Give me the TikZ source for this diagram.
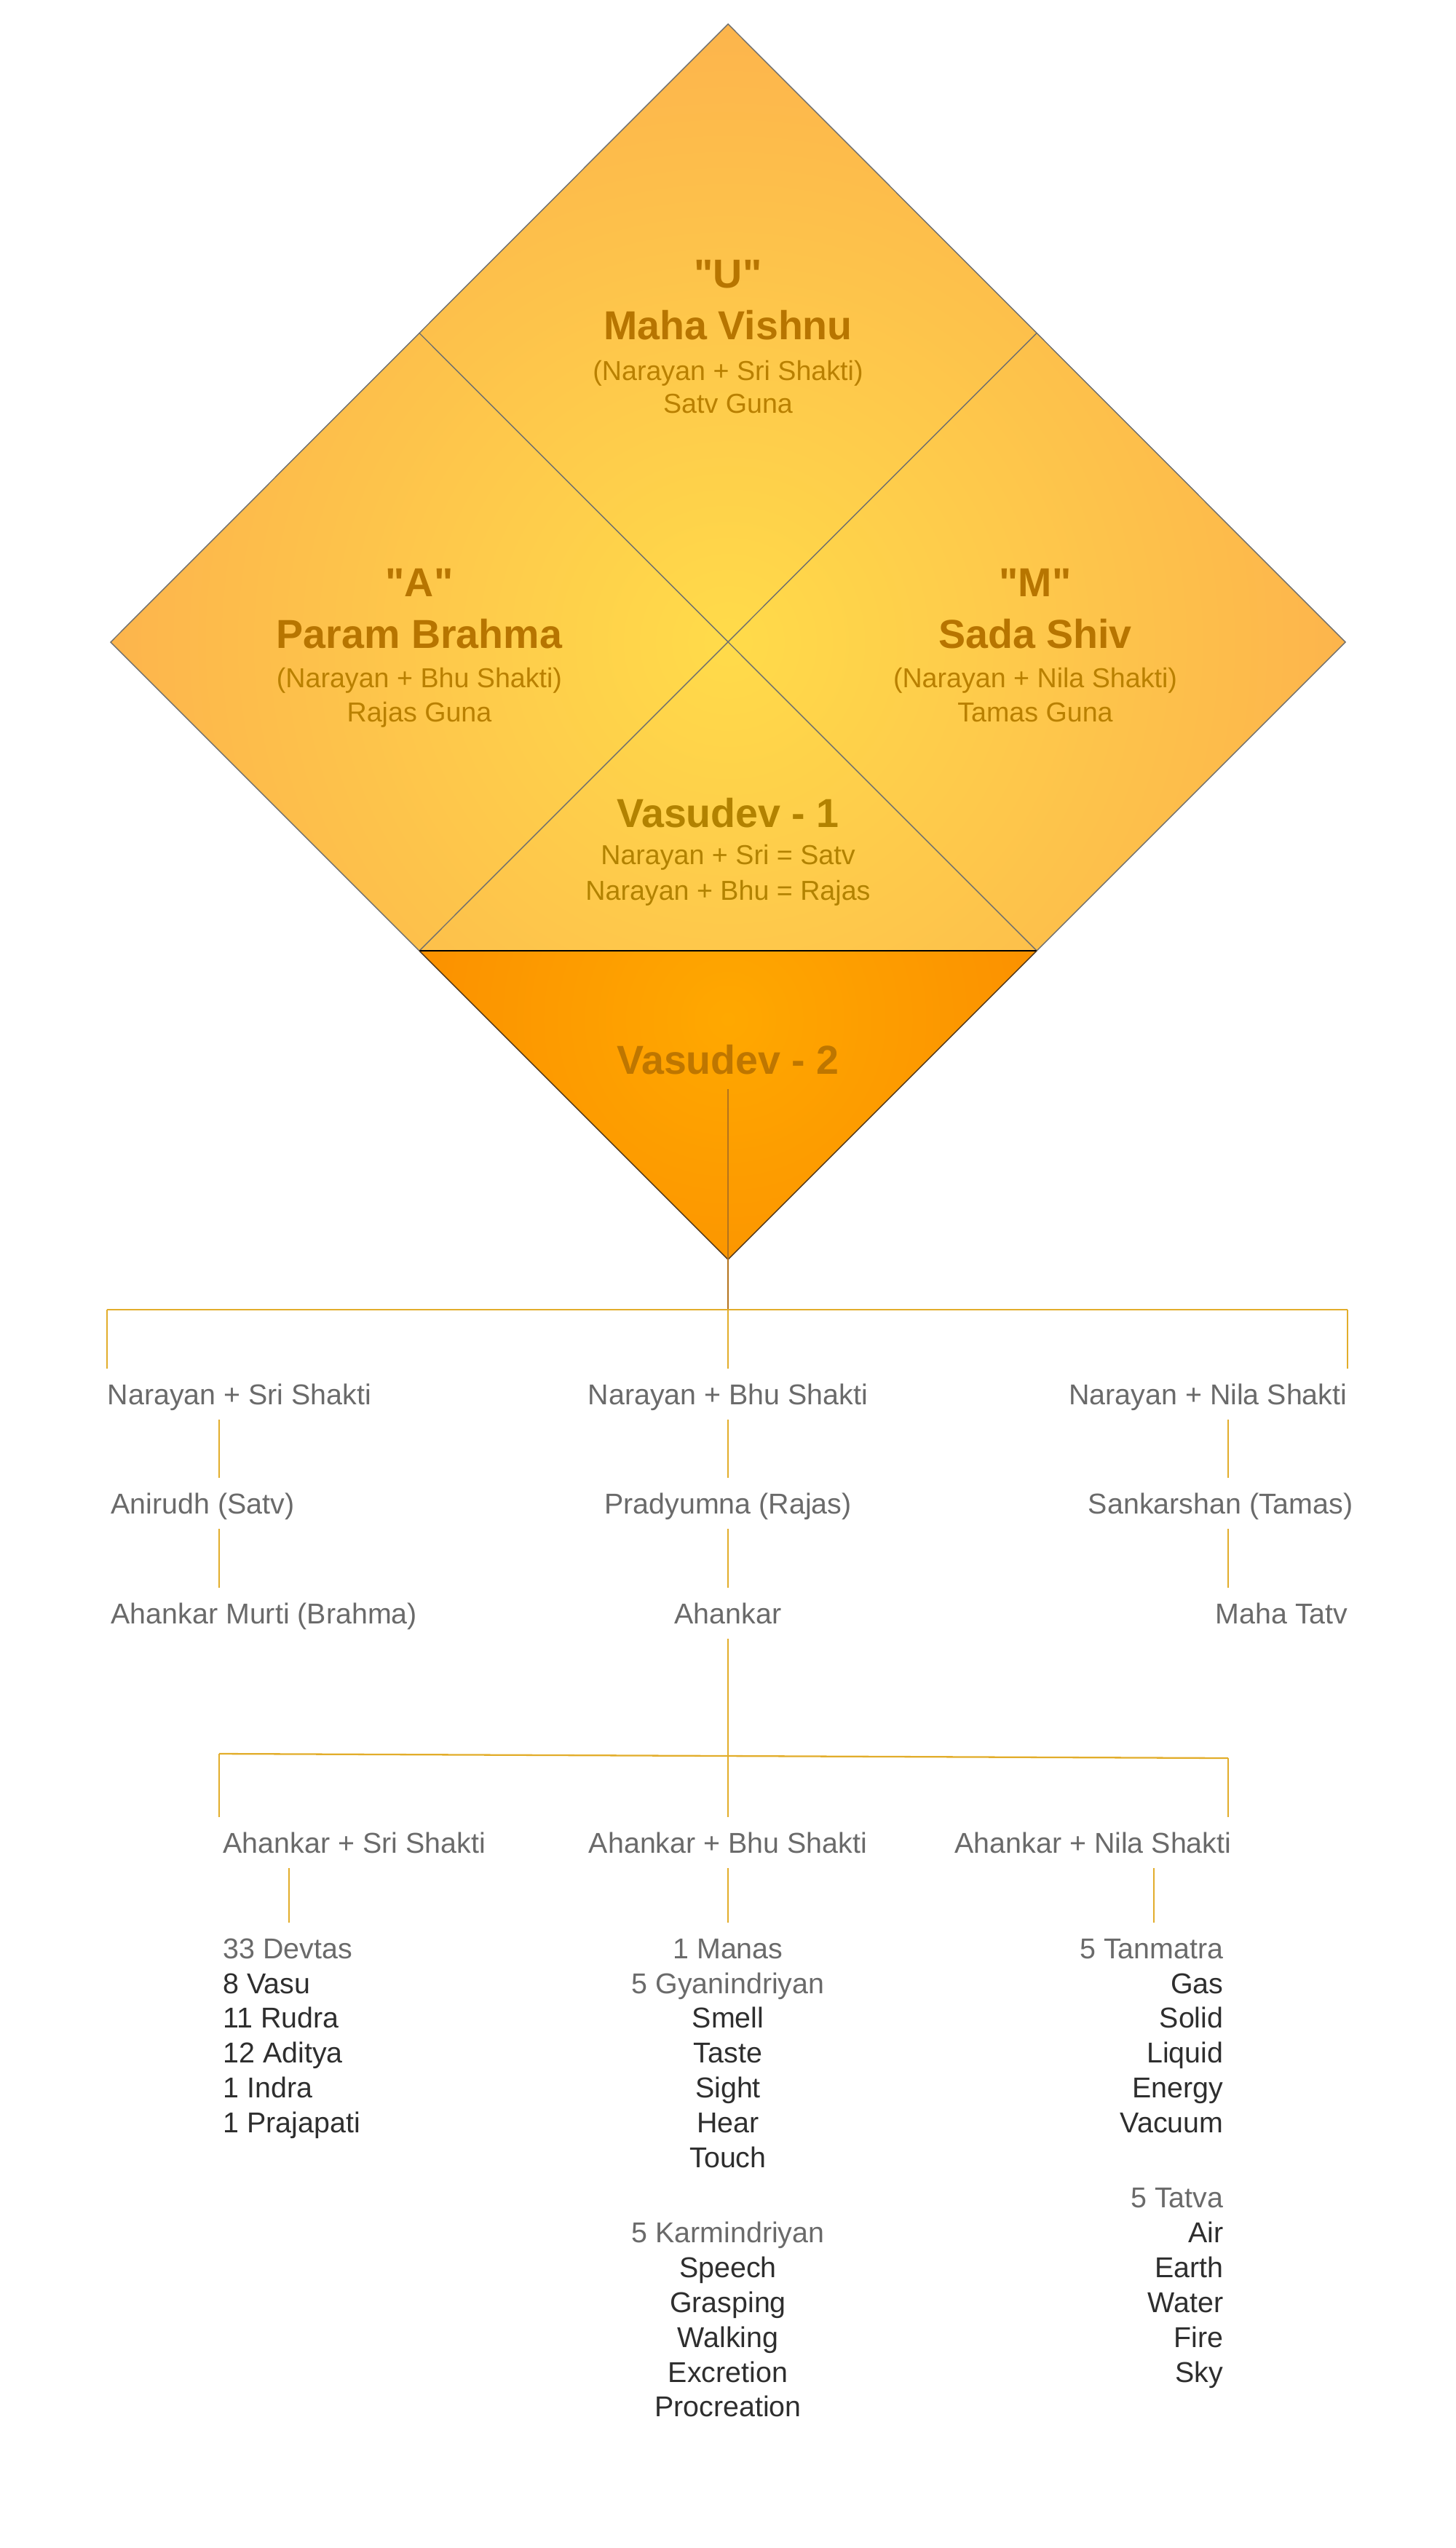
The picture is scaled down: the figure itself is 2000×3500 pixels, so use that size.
\documentclass[tikz,border=0pt]{standalone}
\usepackage{fontspec}
\setmainfont{Liberation Sans}[Ligatures=TeXOff]
\usetikzlibrary{positioning,calc}
\definecolor{diaIn}{HTML}{FFDB4A}
\definecolor{diaOut}{HTML}{FCAF4C}
\definecolor{triIn}{HTML}{FFA800}
\definecolor{triOut}{HTML}{F77800}
\definecolor{deityInk}{HTML}{B77500}
\definecolor{subInk}{HTML}{B98000}
\definecolor{vasuInk}{HTML}{B28200}
\definecolor{edgeGrey}{HTML}{6E6E6E}
\definecolor{linkGold}{HTML}{E2AD2B}
\definecolor{stemBrown}{HTML}{B4731C}
\definecolor{headGrey}{HTML}{6A6A6A}
\definecolor{itemInk}{HTML}{2E2E2E}
\pgfdeclareradialshading{diaglow}{\pgfpoint{0bp}{0bp}}{color(0bp)=(diaIn); color(27bp)=(diaOut); color(50bp)=(diaOut)}
\pgfdeclareradialshading{triglow}{\pgfpoint{0bp}{0bp}}{color(0bp)=(triIn); color(50bp)=(triOut)}
\tikzset{
  deity/.style={font=\fontsize{15.8pt}{19pt}\selectfont\bfseries, text=deityInk,
    inner sep=0pt, text height=11.4pt, text depth=0pt},
  deitysub/.style={font=\fontsize{10.7pt}{13pt}\selectfont, text=subInk,
    inner sep=0pt, text height=7.7pt, text depth=0pt},
  branch/.style={font=\fontsize{11.2pt}{13.6pt}\selectfont, text=headGrey,
    inner xsep=0pt, inner ysep=5.8pt, text height=8pt, text depth=0pt},
  listhead/.style={branch},
  listitem/.style={branch, text=itemInk},
  link/.style={draw=linkGold, line width=0.65pt},
  stem/.style={draw=stemBrown, line width=0.65pt},
  edge/.style={draw=edgeGrey, line width=0.4pt},
}
\begin{document}
\begin{tikzpicture}[x=0.01cm, y=-0.01cm]
  \useasboundingbox (0,0) rectangle (2000,3500);
  % the diamond
  \coordinate (dtop) at (1000,33);
  \coordinate (dleft) at (152,882);
  \coordinate (dright) at (1848,882);
  \coordinate (apex) at (1000,1730);
  \coordinate (ctr) at (1000,882);
  \coordinate (ul) at ($(dtop)!0.5!(dleft)$);
  \coordinate (ur) at ($(dtop)!0.5!(dright)$);
  \coordinate (ll) at ($(dleft)!0.5!(apex)$);
  \coordinate (lr) at ($(dright)!0.5!(apex)$);
  \begin{scope}
    \clip (dtop) -- (dright) -- (apex) -- (dleft) -- cycle;
    \shade[shading=diaglow] (ctr) circle (900);
  \end{scope}
  \begin{scope}
    \clip (ll) -- (lr) -- (apex) -- cycle;
    \shade[shading=triglow] (1000,1400) circle (450);
  \end{scope}
  \draw[edge] (ll) -- (dleft) -- (dtop) -- (dright) -- (lr);
  \draw[edge] (ul) -- (lr);
  \draw[edge] (ur) -- (ll);
  \draw[black, line width=0.5pt] (ll) -- (lr);
  \draw[draw=black!60!brown, line width=0.4pt] (ll) -- (apex) -- (lr);
  % U
  \node[deity] (u) at (1000,375) {"U"};
  \node[deity] (vishnu) at (1000,446) {Maha Vishnu};
  \node[deitysub] (vishnu-s) at (1000,509) {(Narayan + Sri Shakti)};
  \node[deitysub] (vishnu-g) at (1000,554) {Satv Guna};
  % A
  \node[deity] (a) at (576,799) {"A"};
  \node[deity] (brahma) at (576,870) {Param Brahma};
  \node[deitysub] (brahma-s) at (576,931) {(Narayan + Bhu Shakti)};
  \node[deitysub] (brahma-g) at (576,978) {Rajas Guna};
  % M
  \node[deity] (m) at (1422,799) {"M"};
  \node[deity] (shiv) at (1422,870) {Sada Shiv};
  \node[deitysub] (shiv-s) at (1422,931) {(Narayan + Nila Shakti)};
  \node[deitysub] (shiv-g) at (1422,978) {Tamas Guna};
  % Vasudev
  \node[deity, text=vasuInk] (v1) at (1000,1116) {Vasudev - 1};
  \node[deitysub, text=vasuInk] (v1-a) at (1000,1174) {Narayan + Sri = Satv};
  \node[deitysub, text=vasuInk] (v1-b) at (1000,1223) {Narayan + Bhu = Rajas};
  \node[deity, text=deityInk!90!orange, inner ysep=5.8pt] (v2) at (1000,1455) {Vasudev - 2};
  % first split
  \coordinate (hub1) at (1000,1799);
  \coordinate (bar1L) at (147,1799);
  \coordinate (bar1R) at (1851,1799);
  \coordinate (colL) at (301,0);
  \coordinate (colR) at (1687,0);
  \draw[stem] (v2.south) -- (apex) -- (hub1);
  \draw[link] (bar1L) -- (bar1R);
  \node[branch, anchor=west] (nsri) at (147,1915) {Narayan + Sri Shakti};
  \node[branch] (nbhu) at (1000,1915) {Narayan + Bhu Shakti};
  \node[branch, anchor=east] (nnila) at (1851,1915) {Narayan + Nila Shakti};
  \node[branch, anchor=west] (ani) at (152,2065) {Anirudh (Satv)};
  \node[branch] (prad) at (1000,2065) {Pradyumna (Rajas)};
  \node[branch, anchor=east] (sank) at (1859,2065) {Sankarshan (Tamas)};
  \node[branch, anchor=west] (murti) at (152,2216) {Ahankar Murti (Brahma)};
  \node[branch] (ahan) at (1000,2216) {Ahankar};
  \node[branch, anchor=east] (mtatv) at (1852,2216) {Maha Tatv};
  \draw[link] (bar1L) -- (nsri.north west);
  \draw[link] (hub1) -- (nbhu);
  \draw[link] (bar1R) -- (nnila.north east);
  \draw[link] (nsri.south -| colL) -- (ani.north -| colL);
  \draw[link] (ani.south -| colL) -- (murti.north -| colL);
  \draw[link] (nbhu) -- (prad);
  \draw[link] (prad) -- (ahan);
  \draw[link] (nnila.south -| colR) -- (sank.north -| colR);
  \draw[link] (sank.south -| colR) -- (mtatv.north -| colR);
  % second split
  \coordinate (bar2L) at (301,2409);
  \coordinate (bar2R) at (1687,2415);
  \coordinate (col4L) at (397,0);
  \coordinate (col4R) at (1585,0);
  \node[branch, anchor=west] (ask) at (306,2531) {Ahankar + Sri Shakti};
  \node[branch] (abh) at (1000,2531) {Ahankar + Bhu Shakti};
  \node[branch, anchor=east] (ank) at (1692,2531) {Ahankar + Nila Shakti};
  \draw[link] (bar2L) -- (bar2R);
  \draw[link] (ahan) -- (abh);
  \draw[link] (bar2L) -- (ask.north -| bar2L);
  \draw[link] (bar2R) -- (ank.north -| bar2R);
  % lists
  \foreach \s/\n/\t [count=\k from 0] in {listhead/0/33 Devtas, listitem/1/8 Vasu,
      listitem/2/11 Rudra, listitem/3/12 Aditya, listitem/4/1 Indra, listitem/5/1 Prajapati}
    \node[\s, anchor=west] (L\k) at (306,{2676+47.9*\n}) {\t};
  \foreach \s/\n/\t [count=\k from 0] in {listhead/0/1 Manas, listhead/1/5 Gyanindriyan,
      listitem/2/Smell, listitem/3/Taste, listitem/4/Sight, listitem/5/Hear, listitem/6/Touch,
      listhead/8.15/5 Karmindriyan, listitem/9.15/Speech, listitem/10.15/Grasping,
      listitem/11.15/Walking, listitem/12.15/Excretion, listitem/13.15/Procreation}
    \node[\s] (M\k) at (1000,{2676+47.9*\n}) {\t};
  \foreach \s/\n/\t [count=\k from 0] in {listhead/0/5 Tanmatra, listitem/1/Gas,
      listitem/2/Solid, listitem/3/Liquid, listitem/4/Energy, listitem/5/Vacuum,
      listhead/7.15/5 Tatva, listitem/8.15/Air, listitem/9.15/Earth, listitem/10.15/Water,
      listitem/11.15/Fire, listitem/12.15/Sky}
    \node[\s, anchor=east] (R\k) at (1681,{2676+47.9*\n}) {\t};
  \draw[link] (ask.south -| col4L) -- (L0.north -| col4L);
  \draw[link] (abh) -- (M0);
  \draw[link] (ank.south -| col4R) -- (R0.north -| col4R);
\end{tikzpicture}
\end{document}
